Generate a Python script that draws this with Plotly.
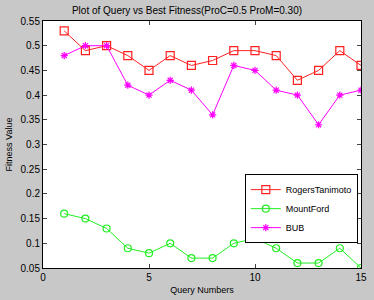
import plotly.graph_objects as go

queries = list(range(1, 16))
rogers = [0.53, 0.49, 0.50, 0.48, 0.45, 0.48, 0.46, 0.47, 0.49, 0.49, 0.48, 0.43, 0.45, 0.49, 0.46]
mountford = [0.16, 0.15, 0.13, 0.09, 0.08, 0.10, 0.07, 0.07, 0.10, 0.11, 0.09, 0.06, 0.06, 0.09, 0.05]
bub = [0.48, 0.50, 0.50, 0.42, 0.40, 0.43, 0.41, 0.36, 0.46, 0.45, 0.41, 0.40, 0.34, 0.40, 0.41]

y_ticks = [0.05, 0.1, 0.15, 0.2, 0.25, 0.3, 0.35, 0.4, 0.45, 0.5, 0.55]
y_labels = ["0.05", "0.1", "0.15", "0.2", "0.25", "0.3", "0.35", "0.4", "0.45", "0.5", "0.55"]
x_ticks = [0, 5, 10, 15]

font = "Liberation Sans, Arial, sans-serif"

fig = go.Figure()
fig.add_trace(go.Scatter(x=queries, y=rogers, name="RogersTanimoto", mode="lines+markers",
                         line=dict(color="#ff2020", width=1),
                         marker=dict(symbol="square-open", size=8, color="#ff2020", line=dict(width=1.2))))
fig.add_trace(go.Scatter(x=queries, y=mountford, name="MountFord", mode="lines+markers",
                         line=dict(color="#22ee22", width=1),
                         marker=dict(symbol="circle-open", size=7, color="#22ee22", line=dict(width=1.2))))
fig.add_trace(go.Scatter(x=queries, y=bub, name="BUB", mode="lines+markers",
                         line=dict(color="#ff00ff", width=1),
                         marker=dict(symbol="asterisk-open", size=6, color="#ff00ff", line=dict(width=1.2, color="#ff00ff"))))

fig.update_layout(
    width=374, height=300,
    margin=dict(l=43, r=7, t=21, b=31),
    paper_bgcolor="#c8c8c8",
    plot_bgcolor="white",
    font=dict(family=font, size=10, color="black"),
    title=dict(text="Plot of Query vs Best Fitness(ProC=0.5 ProM=0.30)", x=0.5, xref="container",
               y=1 - 10 / 300, yref="container", yanchor="middle",
               font=dict(size=10, family=font)),
    xaxis=dict(range=[0, 15], tickvals=x_ticks, ticks="inside", ticklen=4, mirror="ticks",
               showline=True, linecolor="black", linewidth=1, showgrid=False, zeroline=False,
               title=dict(text="Query Numbers", font=dict(size=9), standoff=4),
               tickfont=dict(size=10)),
    yaxis=dict(range=[0.05, 0.55], tickvals=y_ticks, ticktext=y_labels, ticks="inside", ticklen=4,
               mirror="ticks", showline=True, linecolor="black", linewidth=1, showgrid=False,
               zeroline=False, title=dict(text="Fitness Value", font=dict(size=9), standoff=6),
               tickfont=dict(size=10)),
    legend=dict(x=0.99, xanchor="right", y=0.38, yanchor="top", bgcolor="white",
                bordercolor="black", borderwidth=1, font=dict(size=9),
                tracegroupgap=0, itemwidth=30, itemsizing="trace"),
    showlegend=True,
)

fig.write_html("out.html")
